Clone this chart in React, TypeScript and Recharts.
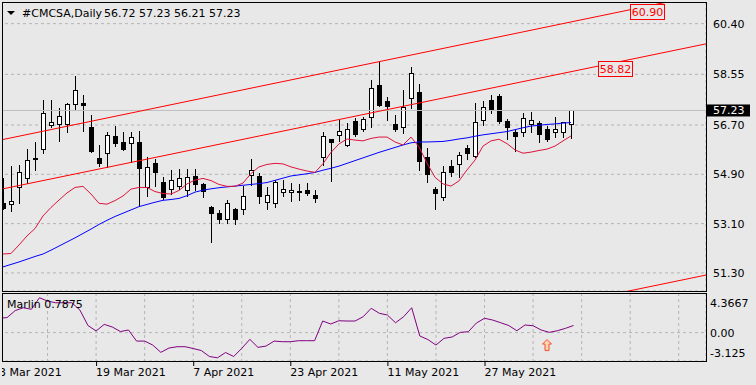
import React from "react";
import {
  ComposedChart,
  Bar,
  Line,
  XAxis,
  YAxis,
  CartesianGrid,
  ReferenceLine,
  ReferenceDot,
} from "recharts";

const BG = "#e8e8e8";
const GRID = "#b4b4b4";
const FONT = "'DejaVu Sans', sans-serif";

// trading days, one per candle
const dates = [
  "3 Mar 2021", "4 Mar 2021", "5 Mar 2021", "8 Mar 2021", "9 Mar 2021", "10 Mar 2021", "11 Mar 2021", "12 Mar 2021",
  "15 Mar 2021", "16 Mar 2021", "17 Mar 2021", "18 Mar 2021", "19 Mar 2021", "22 Mar 2021", "23 Mar 2021", "24 Mar 2021",
  "25 Mar 2021", "26 Mar 2021", "29 Mar 2021", "30 Mar 2021", "31 Mar 2021",
  "1 Apr 2021", "5 Apr 2021", "6 Apr 2021", "7 Apr 2021", "8 Apr 2021", "9 Apr 2021", "12 Apr 2021", "13 Apr 2021",
  "14 Apr 2021", "15 Apr 2021", "16 Apr 2021", "19 Apr 2021", "20 Apr 2021", "21 Apr 2021", "22 Apr 2021", "23 Apr 2021",
  "26 Apr 2021", "27 Apr 2021", "28 Apr 2021", "29 Apr 2021", "30 Apr 2021",
  "3 May 2021", "4 May 2021", "5 May 2021", "6 May 2021", "7 May 2021", "10 May 2021", "11 May 2021", "12 May 2021",
  "13 May 2021", "14 May 2021", "17 May 2021", "18 May 2021", "19 May 2021", "20 May 2021", "21 May 2021", "24 May 2021",
  "25 May 2021", "26 May 2021", "27 May 2021", "28 May 2021",
  "1 Jun 2021", "2 Jun 2021", "3 Jun 2021", "4 Jun 2021", "7 Jun 2021", "8 Jun 2021", "9 Jun 2021", "10 Jun 2021",
  "11 Jun 2021", "14 Jun 2021",
];

const opens = [
  53.85, 53.81, 54.45, 54.75, 55.47, 55.81, 56.69, 56.73, 56.73, 57.46,
  57.51, 56.62, 55.48, 55.67, 56.3, 56.08, 56.03, 56.09, 54.43, 55.3,
  54.62, 54.35, 54.49, 54.33, 54.85, 54.55, 53.72, 53.48, 53.27, 53.63,
  53.63, 54.88, 54.84, 53.88, 53.85, 54.25, 54.25, 54.28, 54.33, 54.15,
  55.52, 56.18, 56.34, 55.97, 56.85, 56.55, 56.98, 58.16, 57.58, 56.74,
  56.62, 57.67, 57.89, 55.52, 54.36, 54.06, 55.21, 55.27, 55.85, 55.57,
  56.88, 57.61, 57.76, 56.85, 56.44, 56.43, 56.73, 56.76, 56.54, 56.46,
  56.46, 56.72,
];
const highs = [
  54.77, 55.2, 55.24, 55.81, 56.09, 57.61, 57.61, 57.31, 57.51, 58.49,
  57.79, 57.06, 55.97, 56.46, 56.66, 56.46, 56.46, 56.49, 55.54, 55.46,
  54.79, 55.06, 55.09, 55.08, 55.09, 54.59, 53.76, 53.6, 53.96, 53.66,
  54.47, 55.46, 54.94, 54.43, 54.69, 54.69, 54.59, 54.54, 54.58, 54.33,
  56.43, 56.2, 56.88, 56.76, 56.97, 57.0, 58.34, 59.01, 57.73, 57.06,
  57.98, 58.81, 58.19, 55.87, 54.45, 55.2, 55.42, 55.73, 55.97, 57.49,
  57.59, 57.79, 57.83, 56.92, 56.54, 57.15, 57.17, 56.86, 56.66, 56.98,
  56.82, 57.23,
];
const lows = [
  53.63, 53.57, 53.86, 54.57, 55.06, 55.69, 56.64, 56.13, 56.46, 57.25,
  56.49, 55.73, 55.2, 55.16, 55.93, 55.79, 55.36, 53.78, 54.11, 54.47,
  53.99, 54.17, 54.36, 54.09, 54.33, 54.06, 52.44, 53.11, 53.11, 53.09,
  53.45, 54.51, 53.86, 53.62, 53.72, 54.09, 53.94, 53.96, 54.15, 53.9,
  55.24, 54.66, 56.12, 55.94, 56.31, 56.48, 56.64, 57.4, 56.88, 56.48,
  56.42, 57.32, 55.06, 54.63, 53.62, 53.96, 54.84, 54.81, 55.45, 55.52,
  56.7, 57.13, 56.78, 56.18, 55.75, 56.31, 56.46, 56.07, 56.13, 56.27,
  56.27, 56.21,
];
const closes = [
  53.67, 53.94, 54.97, 55.42, 55.5, 57.13, 56.8, 57.03, 57.47, 57.98,
  57.42, 55.76, 55.3, 56.32, 56.05, 55.84, 56.25, 55.12, 55.16, 54.97,
  54.06, 54.69, 54.75, 54.79, 54.54, 54.29, 53.5, 53.27, 53.84, 53.26,
  54.11, 55.06, 54.11, 54.15, 54.61, 54.36, 54.33, 54.27, 54.23, 54.05,
  56.31, 56.07, 56.47, 56.54, 56.37, 56.91, 58.04, 57.43, 57.39, 56.54,
  57.37, 58.59, 55.4, 54.9, 54.21, 54.99, 54.99, 55.59, 55.67, 56.8,
  57.35, 57.27, 56.86, 56.62, 56.31, 56.94, 56.87, 56.36, 56.18, 56.55,
  56.8, 57.23,
];

// crimson moving average
const maFast = [
  51.99, 52.01, 52.32, 52.65, 52.92, 53.38, 53.69, 53.96, 54.22, 54.42,
  54.46, 54.18, 53.84, 53.81, 53.94, 54.11, 54.36, 54.42, 54.42, 54.27,
  54.2, 54.18, 54.31, 54.55, 54.69, 54.75, 54.67, 54.53, 54.46, 54.46,
  54.58, 54.93, 55.17, 55.26, 55.3, 55.28, 55.17, 55.09, 55.02, 54.97,
  55.29, 55.7, 56.01, 56.19, 56.15, 56.12, 56.21, 56.26, 56.26, 56.08,
  55.97, 56.26, 55.9, 55.31, 54.79, 54.55, 54.47, 54.66, 55.06, 55.42,
  55.93, 56.12, 56.18, 56.02, 55.79, 55.67, 55.71, 55.77, 55.82, 55.93,
  56.12, 56.3,
];
// blue moving average
const maSlow = [
  51.52, 51.61, 51.7, 51.8, 51.9, 51.99, 52.13, 52.28, 52.43, 52.58,
  52.74, 52.9, 53.07, 53.22, 53.36, 53.48, 53.6, 53.72, 53.8, 53.88,
  53.95, 53.98, 54.02, 54.12, 54.25, 54.32, 54.37, 54.41, 54.44, 54.47,
  54.5, 54.53, 54.56, 54.6, 54.68, 54.76, 54.84, 54.88, 54.92, 54.97,
  55.05, 55.12, 55.2, 55.3, 55.4, 55.5, 55.6, 55.7, 55.79, 55.88,
  55.97, 56.05, 56.08, 56.08, 56.09, 56.1, 56.14, 56.19, 56.23, 56.29,
  56.34, 56.38, 56.42, 56.46, 56.53, 56.6, 56.66, 56.69, 56.72, 56.74,
  56.77, 56.79,
];
const marlin = [
  1.58, 1.66, 2.43, 2.74, 2.57, 3.84, 3.48, 3.29, 3.29, 3.29,
  2.49, 0.78, 0.18, 0.91, 0.62, 0.12, 0.29, -0.93, -0.93, -1.37,
  -2.17, -1.7, -1.55, -1.55, -1.75, -1.97, -2.63, -2.77, -2.19, -2.63,
  -1.73, -0.74, -1.62, -1.48, -0.93, -1.0, -1.0, -0.89, -0.89, -0.89,
  1.28, 0.95, 1.31, 1.28, 1.28, 1.75, 2.68, 2.13, 1.94, 1.09,
  1.75, 2.74, -0.37, -0.76, -1.37, -0.63, -0.48, 0.03, 0.1, 1.06,
  1.58, 1.39, 1.09, 0.78, 0.21, 0.84, 0.76, 0.29, 0.03, 0.21,
  0.47, 0.7875,
];

const dateTicks = [0, 12, 24, 36, 48, 60];
const gridTicks = [0, 6, 12, 18, 24, 30, 36, 42, 48, 54, 60, 66, 72, 78, 84];
const priceTicks = [51.3, 53.1, 54.9, 56.7, 58.55, 60.4];
const lastPrice = 57.23;
const marlinTicks = [4.3667, 0, -3.125];
const marlinTickLabels = ["4.3667", "0.00", "-3.125"];

// channel lines: price at bar -1 and bar 89
const channelBars = [-1, 89];
const channelUpper = [56.11, 61.55];
const channelMiddle = [54.31, 59.73];
const channelLower = [45.87, 51.29];
const levelLabels = ["60.90", "58.82"];
const levelBars = [78.4, 74.4];
const levelPrices = [60.9, 58.82];

const signalBar = 68;
const signalLevel = -1.37;

const SLOTS = 88; // bars shown incl. empty space on the right
const N = opens.length;

const rows = Array.from({ length: SLOTS }, (_, i) =>
  i < N
    ? {
        i,
        date: dates[i],
        open: opens[i],
        high: highs[i],
        low: lows[i],
        close: closes[i],
        range: [lows[i], highs[i]],
        maFast: maFast[i],
        maSlow: maSlow[i],
        marlin: marlin[i],
      }
    : { i }
);

const Candle = (props: any) => {
  const { x, y, width, height, payload } = props;
  if (!payload || payload.open == null || !isFinite(y) || !isFinite(height)) return null;
  const { open, high, low, close } = payload;
  const top = Math.min(y, y + height);
  const bottom = Math.max(y, y + height);
  const k = (bottom - top) / (high - low);
  const yOf = (v: number) => top + (high - v) * k;
  const cx = Math.round(x + width / 2);
  const bull = close >= open;
  const yT = Math.round(yOf(Math.max(open, close))) + 0.5;
  const yB = Math.round(yOf(Math.min(open, close))) + 0.5;
  return (
    <g>
      <line x1={cx + 0.5} x2={cx + 0.5} y1={Math.round(top)} y2={Math.round(bottom) + 1} stroke="#000" />
      {yB - yT < 1 ? (
        <line x1={cx - 2} x2={cx + 3} y1={yT} y2={yT} stroke="#000" />
      ) : (
        <rect x={cx - 1.5} y={yT} width={4} height={yB - yT} fill={bull ? "#fff" : "#000"} stroke="#000" />
      )}
    </g>
  );
};

const PriceTick = (props: any) => {
  const { x, y, payload } = props;
  const v = payload.value;
  if (v === lastPrice) {
    return (
      <g>
        <rect x={x + 1} y={y - 6} width={43} height={12} fill="#000" />
        <text x={x + 7} y={y + 4} fill="#fff" fontSize={11} fontFamily={FONT}>
          {v.toFixed(2)}
        </text>
      </g>
    );
  }
  return (
    <text x={x + 7} y={y + 4} fill="#000" fontSize={11} fontFamily={FONT}>
      {v.toFixed(2)}
    </text>
  );
};

const MarlinTick = (props: any) => {
  const { x, y, payload } = props;
  const idx = marlinTicks.indexOf(payload.value);
  const dy = idx === 0 ? 14 : idx === 2 ? -4 : 4;
  return (
    <text x={x + 4} y={y + dy} fill="#000" fontSize={11} fontFamily={FONT}>
      {marlinTickLabels[idx]}
    </text>
  );
};

const DateTick = (props: any) => {
  const { x, y, payload } = props;
  if (!dateTicks.includes(payload.value)) return null;
  return (
    <g>
      <line x1={x + 0.5} x2={x + 0.5} y1={y} y2={y + 5} stroke="#000" />
      <text x={x} y={y + 15} fill="#000" fontSize={11} fontFamily={FONT}>
        {dates[payload.value]}
      </text>
    </g>
  );
};

const LevelTag = (text: string) => (props: any) => {
  const { cx, cy } = props;
  return (
    <g>
      <rect x={Math.round(cx) + 0.5} y={Math.round(cy) - 5.5} width={34} height={15} fill={BG} stroke="#ff0000" />
      <text x={Math.round(cx) + 17.5} y={Math.round(cy) + 6} fill="#ff0000" fontSize={11} fontFamily={FONT} textAnchor="middle">
        {text}
      </text>
    </g>
  );
};

const ArrowUp = (props: any) => {
  const { cx, cy } = props;
  const d = `M${cx},${cy - 5.5} L${cx + 4.5},${cy - 1} L${cx + 2},${cy - 1} L${cx + 2},${cy + 5.5} L${cx - 2},${cy + 5.5} L${cx - 2},${cy - 1} L${cx - 4.5},${cy - 1} Z`;
  return <path d={d} fill="#fcd3b4" stroke="#f4502a" strokeWidth={1} />;
};

export default function App() {
  const last = N - 1;
  const ohlc = [opens[last], highs[last], lows[last], closes[last]].map((v) => v.toFixed(2)).join(" ");
  return (
    <div style={{ position: "fixed", left: 0, top: 0, width: 756, height: 385, background: BG, overflow: "hidden" }}>
      <div style={{ position: "absolute", left: -1, top: 2 }}>
        <ComposedChart width={757} height={289} data={rows} margin={{ top: 0, right: 0, bottom: 0, left: 0 }} barCategoryGap={0}>
          <CartesianGrid stroke={GRID} strokeDasharray="3 3" />
          <XAxis dataKey="i" type="category" ticks={gridTicks} interval={0} padding={{ left: 0, right: 3 }} height={0} tick={false} axisLine={false} tickLine={false} />
          <XAxis xAxisId="num" dataKey="i" type="number" domain={[-0.5, 87.5]} allowDataOverflow hide padding={{ left: 0, right: 3 }} />
          <YAxis
            orientation="right"
            width={50}
            type="number"
            domain={[50.64, 61.19]}
            allowDataOverflow
            ticks={[...priceTicks, lastPrice]}
            interval={0}
            tickLine={false}
            axisLine={false}
            tickSize={0}
            tickMargin={0}
            tick={<PriceTick />}
          />
          <ReferenceLine y={lastPrice} stroke="#c0c0c0" />
          <Bar dataKey="range" shape={(p: any) => <Candle {...p} />} isAnimationActive={false} />
          <Line dataKey="maSlow" stroke="#0000ff" strokeWidth={1} dot={false} activeDot={false} isAnimationActive={false} />
          <Line dataKey="maFast" stroke="#dc143c" strokeWidth={1} dot={false} activeDot={false} isAnimationActive={false} />
          {[channelUpper, channelMiddle, channelLower].map((c, k) => (
            <ReferenceLine
              key={k}
              xAxisId="num"
              ifOverflow="hidden"
              stroke="#ff0000"
              strokeWidth={1}
              segment={[
                { x: channelBars[0], y: c[0] },
                { x: channelBars[1], y: c[1] },
              ]}
            />
          ))}
          {levelLabels.map((t, k) => (
            <ReferenceDot key={t} xAxisId="num" x={levelBars[k]} y={levelPrices[k]} r={1} shape={LevelTag(t)} />
          ))}
        </ComposedChart>
      </div>

      <div style={{ position: "absolute", left: -1, top: 293 }}>
        <ComposedChart width={757} height={92} data={rows} margin={{ top: 0, right: 0, bottom: 0, left: 0 }}>
          <CartesianGrid stroke={GRID} strokeDasharray="3 3" />
          <XAxis dataKey="i" type="category" ticks={gridTicks} interval={0} padding={{ left: 0, right: 3 }} height={24} axisLine={false} tickLine={false} tickSize={0} tickMargin={0} tick={<DateTick />} />
          <XAxis xAxisId="num" dataKey="i" type="number" domain={[-0.5, 87.5]} allowDataOverflow hide padding={{ left: 0, right: 3 }} />
          <YAxis
            orientation="right"
            width={50}
            type="number"
            domain={[-3.125, 4.3667]}
            allowDataOverflow
            ticks={marlinTicks}
            interval={0}
            tickLine={false}
            axisLine={false}
            tickSize={0}
            tickMargin={0}
            tick={<MarlinTick />}
          />
          <Line dataKey="marlin" stroke="#800080" strokeWidth={1} dot={false} activeDot={false} isAnimationActive={false} />
          <ReferenceDot xAxisId="num" x={signalBar} y={signalLevel} r={1} shape={ArrowUp} />
        </ComposedChart>
      </div>

      <svg width={756} height={385} style={{ position: "absolute", left: 0, top: 0, pointerEvents: "none" }}>
        <rect x={0} y={0} width={2} height={385} fill={BG} />
        <rect x={2.5} y={2.5} width={704} height={289} fill="none" stroke="#000" />
        <rect x={2.5} y={293.5} width={704} height={68} fill="none" stroke="#000" />
        <polygon points="7,11 15,11 11,15" fill="#000" />
        <text x={22} y={17} fontSize={11} fontFamily={FONT} fill="#000">
          #CMCSA,Daily
        </text>
        <text x={104} y={17} fontSize={11} fontFamily={FONT} fill="#000">
          {ohlc}
        </text>
        <text x={7} y={308} fontSize={11} fontFamily={FONT} fill="#000">
          {`Marlin ${marlin[last].toFixed(4)}`}
        </text>
      </svg>
    </div>
  );
}
